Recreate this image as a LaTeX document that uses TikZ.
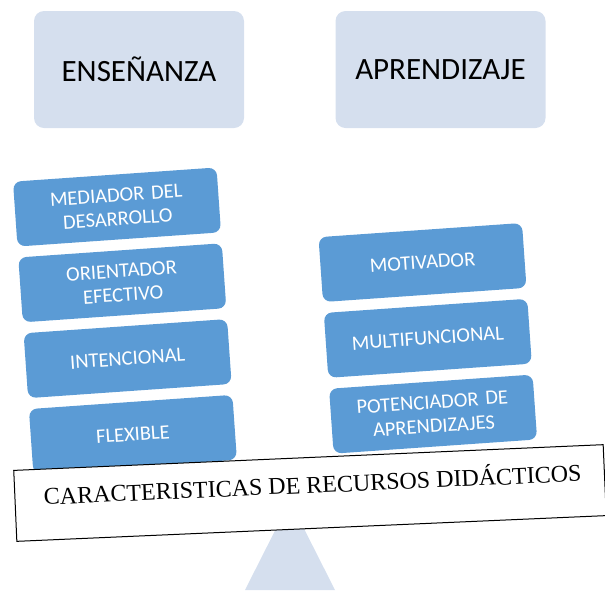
\documentclass[tikz,border=0pt]{standalone}
\usepackage{fontspec}
\usetikzlibrary{calc}
\setmainfont{Carlito}
\newfontfamily\plankfont{Liberation Serif}
\definecolor{cLtBlue}{HTML}{D5DFEE}
\definecolor{cBoxBlue}{HTML}{5B9BD5}
\tikzset{
  topbox/.style={fill=cLtBlue,rounded corners=10pt,minimum width=210pt,minimum height=117pt,
    inner sep=0pt,font=\fontsize{31}{36}\selectfont},
  featbox/.style={fill=cBoxBlue,rounded corners=8pt,minimum width=204pt,minimum height=65pt,
    inner sep=0pt,text=white,text width=190pt,align=center,rotate=4,
    font=\fontsize{20.5}{24}\selectfont},
  plankbox/.style={draw=black,line width=1pt,fill=white,minimum width=590pt,minimum height=71pt,
    inner sep=0pt,transform shape}
}
\begin{document}
\begin{tikzpicture}[x=1pt,y=-1pt]
\useasboundingbox (0,0) rectangle (605,590);
\coordinate (cEnsPt) at (139,69.5);
\coordinate (cAprPt) at (440.5,69.5);
\coordinate (cLeftPt) at (117,207);
\coordinate (cRightPt) at (422.5,262.5);
\coordinate (cPlankPt) at (310,493);

%el soporte de la balanza
\fill[cLtBlue] (245,590) -- (290,501) -- (335,590) -- cycle;

\node[topbox] (nEns) at (cEnsPt) {ENSEÑANZA};
\node[topbox] (nApr) at (cAprPt) {APRENDIZAJE};

\node[featbox] (nMedi) at (cLeftPt) {MEDIADOR DEL\\DESARROLLO};
\node[featbox] (nOrie) at ($(cLeftPt)+(5.3,75.8)$) {ORIENTADOR\\EFECTIVO};
\node[featbox] (nInte) at ($(cLeftPt)+(10.6,151.6)$) {INTENCIONAL};
\node[featbox] (nFlex) at ($(cLeftPt)+(15.9,227.4)$) {FLEXIBLE};

\node[featbox] (nMoti) at (cRightPt) {MOTIVADOR};
\node[featbox] (nMult) at ($(cRightPt)+(5.3,75.8)$) {MULTIFUNCIONAL};
\node[featbox] (nPote) at ($(cRightPt)+(10.6,151.6)$) {POTENCIADOR DE\\APRENDIZAJES};

\begin{scope}[shift={(cPlankPt)},rotate=2.5]
\node[plankbox] (nPlank) at (0,0) {};
\node[transform shape,font=\plankfont\fontsize{24}{28}\selectfont] (nPlankTxt) at (3,-10)
  {CARACTERISTICAS DE RECURSOS DIDÁCTICOS};
\end{scope}

\end{tikzpicture}
\end{document}
